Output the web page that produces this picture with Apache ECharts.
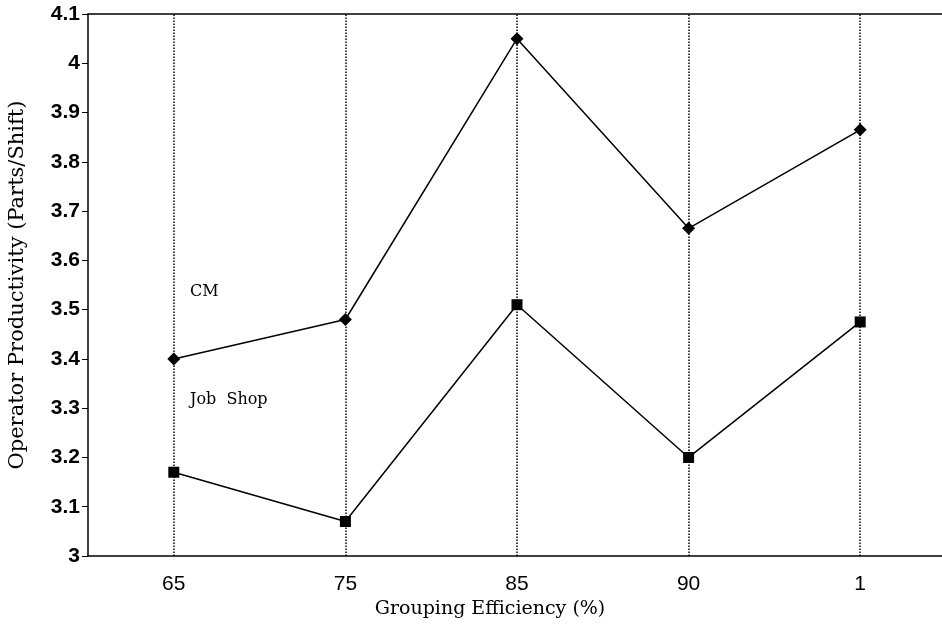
<!DOCTYPE html>
<html>
<head>
<meta charset="utf-8">
<script src="https://cdn.jsdelivr.net/npm/echarts@6/dist/echarts.min.js"></script>
<style>
  html, body { margin: 0; padding: 0; background: #fff; }
  #chart { width: 942px; height: 630px; }
</style>
</head>
<body>
<div id="chart"></div>
<script>
const categories = ['65', '75', '85', '90', '1'];
const cmValues = [3.40, 3.48, 4.05, 3.665, 3.865];
const jobShopValues = [3.17, 3.07, 3.51, 3.20, 3.475];

const chart = echarts.init(document.getElementById('chart'));

const serif = '"DejaVu Serif", "Liberation Serif", serif';
const sans = '"Liberation Sans", Arial, sans-serif';

const option = {
  backgroundColor: '#fff',
  animation: false,
  grid: {
    left: 88, right: -4, top: 14, bottom: 74,
    outerBoundsMode: 'none',
    containLabel: false
  },
  xAxis: [
    {
      type: 'category',
      data: categories,
      name: 'Grouping Efficiency (%)',
      nameLocation: 'middle',
      nameGap: 38,
      nameTextStyle: { fontFamily: serif, fontSize: 19, color: '#000', padding: [0, 54, 0, 0] },
      axisLine: { lineStyle: { color: '#000', width: 1.5 } },
      axisTick: { alignWithLabel: true, length: 6, lineStyle: { color: '#000' } },
      axisLabel: { fontFamily: sans, fontSize: 21, color: '#000', margin: 18 },
      splitLine: { show: false }
    },
    {
      // top frame line only
      type: 'category',
      data: categories,
      position: 'top',
      axisLine: { show: true, lineStyle: { color: '#000', width: 1.5 } },
      axisTick: { show: false },
      axisLabel: { show: false },
      splitLine: { show: false }
    }
  ],
  yAxis: {
    type: 'value',
    min: 3,
    max: 4.1,
    interval: 0.1,
    name: 'Operator Productivity (Parts/Shift)',
    nameLocation: 'middle',
    nameGap: 60,
    nameTextStyle: { fontFamily: serif, fontSize: 21, color: '#000' },
    axisLine: { show: true, lineStyle: { color: '#000', width: 1.5 } },
    axisTick: { show: true, length: 6, lineStyle: { color: '#000' } },
    axisLabel: {
      fontFamily: sans, fontSize: 21, fontWeight: 'bold', color: '#000', margin: 8,
      formatter: v => String(Math.round(v * 10) / 10)
    },
    splitLine: { show: false }
  },
  series: [
    {
      name: 'CM',
      type: 'line',
      data: cmValues,
      symbol: 'diamond',
      symbolSize: 13,
      itemStyle: { color: '#000' },
      lineStyle: { color: '#000', width: 1.5 },
      z: 3,
      markLine: {
        silent: true,
        symbol: 'none',
        label: { show: false },
        lineStyle: { color: '#000', type: 'dotted', width: 1.5 },
        data: categories.map(c => ({ xAxis: c }))
      }
    },
    {
      name: 'Job Shop',
      type: 'line',
      data: jobShopValues,
      symbol: 'rect',
      symbolSize: 11,
      itemStyle: { color: '#000' },
      lineStyle: { color: '#000', width: 1.5 },
      z: 3
    }
  ],
  graphic: [
    {
      type: 'text', left: 190, top: 284,
      style: { text: 'CM', fontFamily: serif, fontSize: 16, fill: '#000' }
    },
    {
      type: 'text', left: 190, top: 392,
      style: { text: 'Job  Shop', fontFamily: serif, fontSize: 16, fill: '#000' }
    }
  ]
};

chart.setOption(option);
window.addEventListener('resize', () => chart.resize());
</script>
</body>
</html>
